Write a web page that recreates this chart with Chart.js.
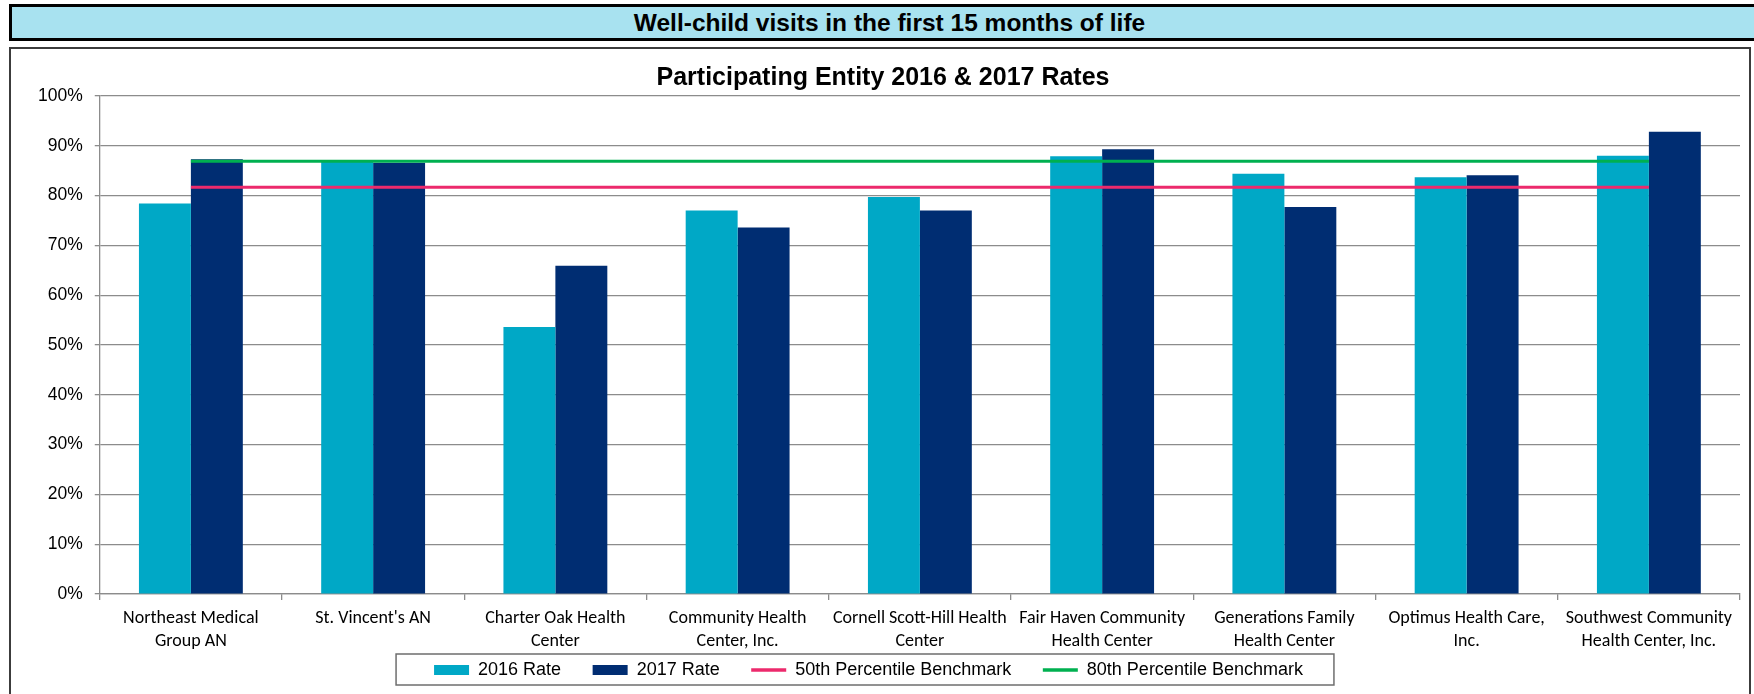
<!DOCTYPE html>
<html>
<head>
<meta charset="utf-8">
<title>Well-child visits in the first 15 months of life</title>
<script src="https://cdn.jsdelivr.net/npm/chart.js@4.4.1/dist/chart.umd.min.js"></script>
<style>
  html, body { margin: 0; padding: 0; background: #fff; overflow: hidden; }
  #banner {
    position: absolute; left: 9px; top: 4px; width: 1755px; height: 31px;
    background: #a8e2f0; border: 3px solid #000; color: #000;
    font: bold 24.5px "Liberation Sans", Arial, sans-serif;
    text-align: center; line-height: 31px;
  }
  #chart-box {
    position: absolute; left: 9px; top: 47px; width: 1738px; height: 700px;
    border: 2px solid #3c3c3c; background: #fff;
  }
  #chart-wrap { position: relative; width: 1738px; height: 640px; }
</style>
</head>
<body>
<div id="banner">Well-child visits in the first 15 months of life</div>
<div id="chart-box">
  <div id="chart-wrap"><canvas id="rates-chart"></canvas></div>
</div>

<script>
// values
const categories = [
  ["Northeast Medical", "Group AN"],
  ["St. Vincent's AN"],
  ["Charter Oak Health", "Center"],
  ["Community Health", "Center, Inc."],
  ["Cornell Scott-Hill Health", "Center"],
  ["Fair Haven Community", "Health Center"],
  ["Generations Family", "Health Center"],
  ["Optimus Health Care,", "Inc."],
  ["Southwest Community", "Health Center, Inc."]
];
const rates2016 = [78.4, 86.8, 53.6, 77.0, 79.7, 87.9, 84.4, 83.7, 88.0];
const rates2017 = [87.3, 86.6, 65.9, 73.6, 77.0, 89.3, 77.7, 84.1, 92.8];
const benchmark50 = [81.7, 81.7, 81.7, 81.7, 81.7, 81.7, 81.7, 81.7, 81.7];
const benchmark80 = [86.9, 86.9, 86.9, 86.9, 86.9, 86.9, 86.9, 86.9, 86.9];
const seriesNames = ["2016 Rate", "2017 Rate", "50th Percentile Benchmark", "80th Percentile Benchmark"];

const gridGray = "#8c8c8c";
Chart.defaults.font.family = "'Liberation Sans', Arial, sans-serif";
Chart.defaults.color = "#000";

// frame round the legend, like the Excel legend box
const legendFrame = {
  id: "legendFrame",
  afterLayout(chart) {
    // nudge the legend a bit left; the legend plugin recomputes hit boxes afterwards
    const lg = chart.legend;
    lg.left -= 14.5;
    lg.right -= 14.5;
  },
  afterDraw(chart) {
    const boxes = chart.legend.legendHitBoxes;
    if (!boxes || !boxes.length) return;
    const first = boxes[0];
    const last = boxes[boxes.length - 1];
    const mid = first.top + first.height / 2;
    const ctx = chart.ctx;
    ctx.save();
    ctx.strokeStyle = "#6e6e6e";
    ctx.lineWidth = 1.5;
    ctx.strokeRect(first.left - 38, mid - 16, last.left + last.width + 31 - (first.left - 38), 31);
    ctx.restore();
  }
};

function initialize() {
  var ctx = document.getElementById("rates-chart").getContext("2d");

  new Chart(ctx, {
    type: "bar",
    data: {
      labels: categories,
      datasets: [
        {
          label: seriesNames[0],
          data: rates2016,
          backgroundColor: "#00a8c6",
          categoryPercentage: 0.57,
          barPercentage: 1.0,
          order: 2
        },
        {
          label: seriesNames[1],
          data: rates2017,
          backgroundColor: "#002d72",
          categoryPercentage: 0.57,
          barPercentage: 1.0,
          order: 2
        },
        {
          type: "line",
          label: seriesNames[2],
          data: benchmark50,
          borderColor: "#ec2a6c",
          backgroundColor: "#ec2a6c",
          borderWidth: 3,
          pointRadius: 0,
          order: 1
        },
        {
          type: "line",
          label: seriesNames[3],
          data: benchmark80,
          borderColor: "#00b050",
          backgroundColor: "#00b050",
          borderWidth: 3,
          pointRadius: 0,
          order: 0
        }
      ]
    },
    options: {
      responsive: true,
      maintainAspectRatio: false,
      animation: false,
      layout: { padding: { left: 15, right: 9, top: 0, bottom: 0 } },
      plugins: {
        title: {
          display: true,
          text: "Participating Entity 2016 & 2017 Rates",
          color: "#000",
          font: { size: 25, weight: "bold" },
          padding: { top: 14, bottom: 3 }
        },
        legend: {
          position: "bottom",
          labels: {
            usePointStyle: true,
            pointStyleWidth: 35,
            boxHeight: 10,
            padding: 1.5,
            color: "#000",
            font: { size: 18 },
            sort: (a, b) => a.datasetIndex - b.datasetIndex,
            generateLabels: function (chart) {
              const items = Chart.defaults.plugins.legend.labels.generateLabels(chart);
              const lastIndex = chart.data.datasets.length - 1;
              items.forEach((item) => {
                const ds = chart.data.datasets[item.datasetIndex];
                if (ds.type === "line") {
                  item.pointStyle = "line";
                  item.strokeStyle = ds.borderColor;
                  item.lineWidth = 3.5;
                } else {
                  item.pointStyle = "rect";
                  item.lineWidth = 0;
                }
                if (item.datasetIndex < lastIndex) item.text += "      ";
              });
              return items;
            }
          }
        },
        tooltip: { enabled: false }
      },
      scales: {
        x: {
          grid: {
            display: true,
            drawOnChartArea: false,
            drawTicks: true,
            tickLength: 6,
            color: gridGray,
            lineWidth: 1.3
          },
          border: { color: gridGray, width: 1.3 },
          ticks: {
            autoSkip: false,
            maxRotation: 0,
            minRotation: 0,
            padding: 7.2,
            color: "#000",
            font: { family: "Calibri, Carlito, Lato, sans-serif", size: 18, lineHeight: 1.25 }
          }
        },
        y: {
          min: 0,
          max: 100,
          grid: { color: gridGray, lineWidth: 1.3, tickLength: 5 },
          border: { color: gridGray, width: 1.3 },
          ticks: {
            stepSize: 10,
            padding: 12,
            color: "#000",
            font: { size: 17.5 },
            callback: (v) => v + "%"
          }
        }
      }
    },
    plugins: [legendFrame]
  });
}

initialize();
</script>
</body>
</html>
